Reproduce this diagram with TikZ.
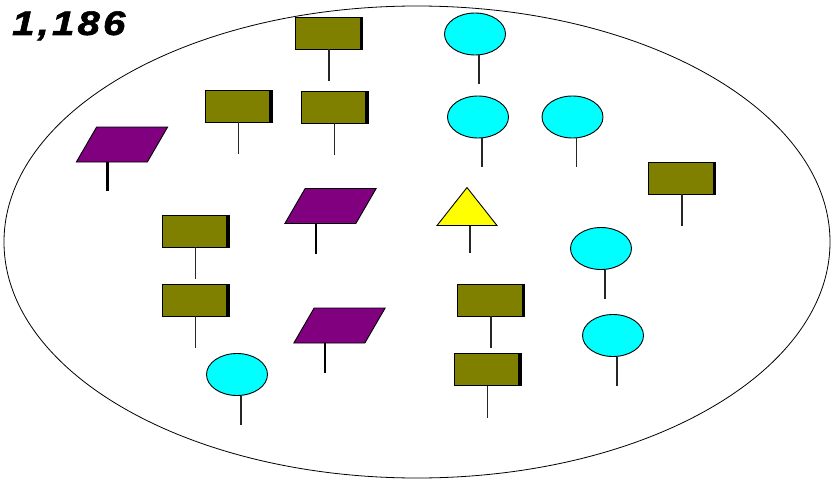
\documentclass[tikz,border=0pt]{standalone}
\usepackage{fontspec}
\newfontfamily\countfont[LetterSpace=8, BoldItalicFeatures={FakeBold=1.6}]{Liberation Sans}
\usetikzlibrary{shapes.geometric,calc}
\definecolor{flagolive}{RGB}{128,128,0}
\definecolor{flagpurple}{RGB}{128,0,128}
\definecolor{flagcyan}{RGB}{0,255,255}
\definecolor{flagyellow}{RGB}{255,255,0}
\tikzset{
  signbox/.style={rectangle, draw=black, line width=0.9pt, fill=flagolive,
    minimum width=67pt, minimum height=32pt, inner sep=0pt,
    path picture={\draw[line width=6pt]
      (path picture bounding box.north east) -- (path picture bounding box.south east);}},
  disc/.style={ellipse, draw=black, line width=0.9pt, fill=flagcyan,
    minimum width=61pt, minimum height=42pt, inner sep=0pt},
  slab/.style={rectangle, draw=black, line width=0.9pt, fill=flagpurple,
    xslant=0.58, minimum width=71pt, minimum height=35pt, inner sep=0pt},
  wedge/.style={isosceles triangle, isosceles triangle stretches, shape border rotate=90,
    draw=black, line width=0.9pt, fill=flagyellow,
    minimum width=60pt, minimum height=38pt, inner sep=0pt},
  pole/.style={draw=black!85, line width=1.1pt},
  thickpole/.style={draw=black, line width=2.8pt},
}
\begin{document}
\begin{tikzpicture}[x=1pt,y=-1pt]
\useasboundingbox (0,0) rectangle (834,484);

% enclosing set
\draw[line width=0.8pt] (417,242) ellipse [x radius=413, y radius=236];

% count label
\node[anchor=base west, inner sep=0pt, font=\countfont\bfseries\itshape\fontsize{34}{34}\selectfont]
  (count) at (12,35) {\scalebox{1.18}[1]{1,186}};

% olive signs
\foreach \n/\x/\y in {r1/329/33, r2/238.5/106, r3/334.5/107, r4/682/178,
                      r5/195.5/231, r6/195.5/300, r7/491/300, r8/487.5/369.5}{
  \node[signbox] (\n) at (\x,\y) {};
  \coordinate (\n-end) at ($(\n.south)+(0,32)$);
  \draw[pole] (\n.south) -- (\n-end);
}

% cyan discs
\foreach \n/\x/\y in {c1/475/34, c2/478/117, c3/572.5/117,
                      c4/601/248.5, c5/613/335.5, c6/237/374.5}{
  \node[disc] (\n) at (\x,\y) {};
  \coordinate (\n-top) at ($(\n.south)+(4,0)$);
  \coordinate (\n-end) at ($(\n.south)+(4,29)$);
  \draw[pole] (\n-top) -- (\n-end);
}

% purple slabs
\foreach \n/\x/\y/\l in {p1/122/144.5/29, p2/330.5/206/30, p3/339.5/325.5/30}{
  \node[slab] (\n) at (\x,\y) {};
  \coordinate (\n-top) at ($(\n.south)+(-4,0)$);
  \coordinate (\n-end) at ($(\n.south)+(-4,\l)$);
  \draw[thickpole] (\n-top) -- (\n-end);
}

% yellow wedge
\node[wedge] (t1) at (467,211) {};
\coordinate (t1-end) at ($(t1.south)+(3,27)$);
\draw[pole] ($(t1.south)+(3,0)$) -- (t1-end);
\end{tikzpicture}
\end{document}
